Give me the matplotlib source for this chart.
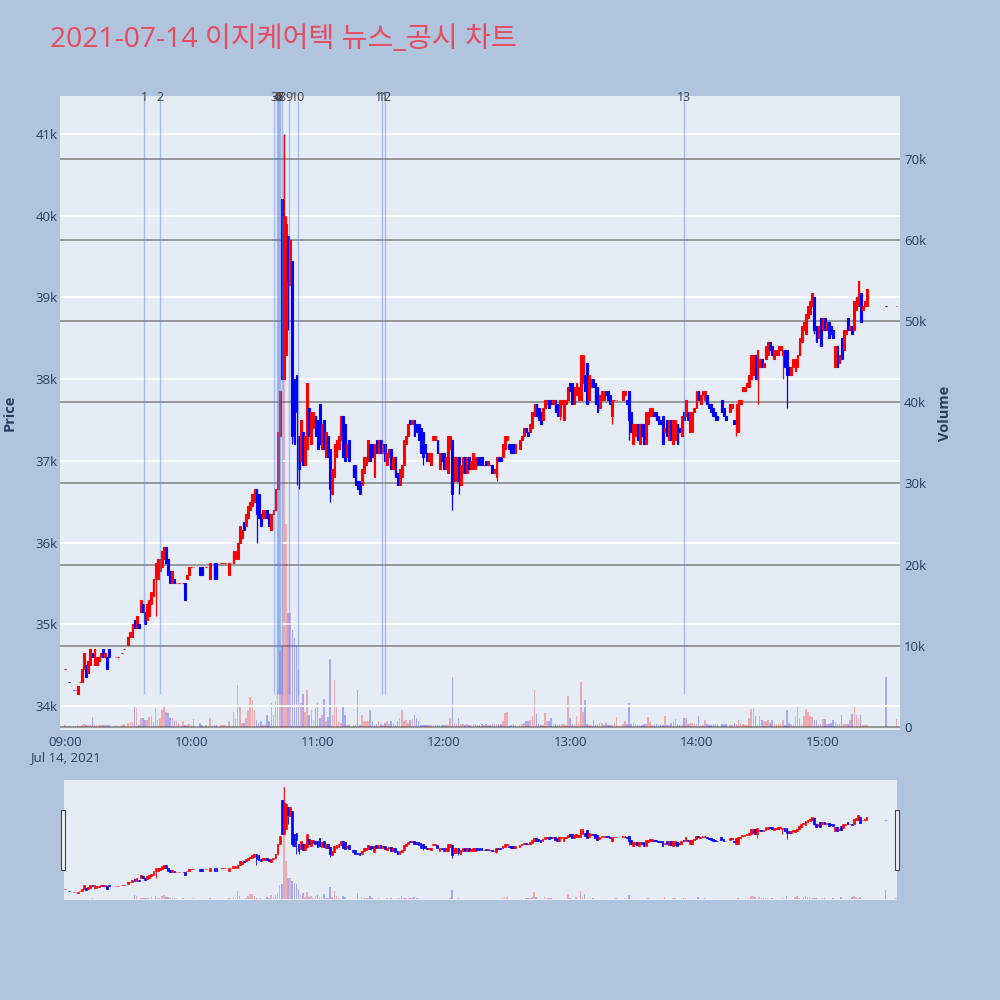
import matplotlib.pyplot as plt
import numpy as np
from matplotlib.patches import Rectangle

plt.rcParams['font.family'] = ['Open Sans', 'Noto Sans CJK KR', 'DejaVu Sans']

title = "2021-07-14 이지케어텍 뉴스_공시 차트"

# one candle per minute from 09:00 (None = no trade in that minute)
opens = [
    34450, None, 34300, None, 34200, 34200, 34150, 34300, 34300, 34450,
    34500, 34400, 34500, 34650, 34500, 34500, 34550, 34600, 34700, 34600,
    34600, 34700, None, None, 34600, 34600, None, 34650, 34700, None,
    34750, 34850, 34850, 35050, 34950, 35000, 35150, 35250, 35150, 35050,
    35100, 35250, 35350, 35550, 35550, 35650, 35700, 35800, 35950, 35800,
    35650, 35500, 35550, 35500, 35500, None, 35500, 35500, 35550, 35600,
    35700, 35700, None, None, 35700, 35700, None, 35700, None, 35550,
    None, 35750, 35750, None, 35750, 35750, 35750, None, 35600, None,
    35750, 35800, 35800, 36000, 36050, 36250, 36200, 36300, 36400, 36450,
    36500, 36650, 36600, 36350, 36300, 36300, 36400, 36350, 36150, 36350,
    36400, 36650, 37300, 40200, 38000, 38300, 39750, 39150, 39450, 38000,
    38050, 37300, 37000, 37350, 36950, 37150, 37650, 37200, 37400, 37550,
    37500, 37700, 37150, 37500, 37050, 37300, 37150, 36600, 36800, 37050,
    37150, 37250, 37550, 37450, 37050, 37250, None, 36950, 36950, 36750,
    36750, 36700, 36850, 36950, 37000, 37200, 37200, 36800, 37250, 37100,
    37250, 37100, 37200, 36950, 37050, 37150, 36900, 37050, 36850, 36700,
    36800, 36950, 37200, 37300, 37500, 37450, 37500, 37450, 37450, 37400,
    37350, 37200, 37100, 37000, 36950, 37250, 37250, 37250, 36900, 37100,
    37100, 36900, 36850, 37150, 37250, 36750, 36750, 37050, 36700, 36850,
    37050, 36850, 37050, 36900, 36900, 36900, 37050, 37050, 37050, 36950,
    37000, 36950, 36950, 36950, 36850, 36800, 37050, 37050, 37050, 37150,
    37250, 37200, 37200, 37200, 37100, None, 37150, 37250, 37300, 37400,
    37350, 37350, 37400, 37550, 37700, 37650, 37600, 37500, 37650, 37700,
    37750, 37750, 37700, 37750, 37700, 37550, 37700, 37500, 37700, 37750,
    37950, 37950, 37700, 37800, 37750, 37750, 37950, 38050, 38200, 37750,
    37900, 38000, 37950, 37900, 37650, 37750, 37750, 37850, 37850, 37800,
    37550, 37750, 37750, None, None, 37750, 37800, 37750, 37850, 37600,
    37200, 37300, 37450, 37200, 37450, 37450, 37200, 37450, 37550, 37550,
    37600, 37600, 37550, 37500, 37550, 37350, 37500, 37250, 37500, 37200,
    37250, 37450, 37400, 37300, 37600, 37550, 37600, 37350, 37350, 37600,
    37650, 37850, 37700, 37800, 37750, 37800, 37700, 37700, 37650, 37600,
    37550, None, 37750, 37650, 37550, None, 37600, 37650, 37500, 37350,
    37350, 37700, 37850, 37850, 37900, 37900, 38000, 38050, 38300, 38000,
    38150, 38250, 38150, 38250, 38300, 38450, 38400, 38250, 38300, 38300,
    38350, 38300, 38350, 38350, 38150, 38050, 38150, 38100, 38150, 38300,
    38450, 38600, 38550, 38750, 38800, 38900, 39000, 38650, 38500, 38750,
    38600, 38750, 38600, 38700, 38650, 38600, 38150, 38400, 38200, 38500,
    38350, 38550, 38750, 38600, 38650, 38600, 38850, 38900, 39050, 38850,
    38900, 38900, None, None, None, None, None, None, None, None,
    38900, None, None, None, None, 38900,
]
closes = [
    34450, None, 34300, None, 34200, 34200, 34250, 34300, 34450, 34650,
    34350, 34550, 34700, 34600, 34700, 34600, 34600, 34650, 34600, 34650,
    34450, 34600, None, None, 34600, 34600, None, 34650, 34700, None,
    34850, 34900, 35000, 34950, 35100, 34950, 35300, 35150, 35000, 35250,
    35300, 35400, 35550, 35750, 35800, 35800, 35900, 35950, 35750, 35600,
    35500, 35650, 35500, 35500, 35500, None, 35500, 35300, 35600, 35700,
    35700, 35700, None, None, 35600, 35600, None, 35700, None, 35750,
    None, 35550, 35550, None, 35750, 35750, 35750, None, 35750, None,
    35900, 35900, 36000, 36200, 36150, 36150, 36350, 36450, 36500, 36600,
    36650, 36350, 36300, 36200, 36400, 36400, 36300, 36200, 36350, 36400,
    36650, 37350, 37850, 38000, 40000, 39900, 39200, 39700, 37300, 37200,
    37600, 36900, 37500, 36950, 37300, 37950, 37300, 37600, 37600, 37300,
    37150, 37200, 37450, 37150, 37350, 37050, 36650, 36900, 37200, 37250,
    37300, 37550, 37050, 37000, 37200, 37000, None, 36800, 36700, 36650,
    36600, 36900, 37050, 37050, 37250, 37000, 37050, 37200, 37100, 37250,
    37100, 37200, 37000, 37100, 37150, 36900, 37050, 36800, 36700, 36900,
    36950, 37250, 37300, 37450, 37450, 37500, 37300, 37350, 37250, 37100,
    37050, 37100, 37000, 37100, 37100, 37300, 37300, 37100, 37100, 37000,
    36900, 37050, 37300, 37300, 36600, 37050, 37050, 36750, 36950, 37050,
    36850, 37050, 36900, 37000, 37100, 37050, 36950, 36950, 36950, 36950,
    36950, 37000, 36950, 36850, 36900, 37050, 37000, 37000, 37200, 37300,
    37300, 37150, 37100, 37100, 37200, None, 37250, 37300, 37400, 37350,
    37300, 37450, 37600, 37700, 37550, 37500, 37450, 37650, 37750, 37750,
    37650, 37700, 37750, 37600, 37550, 37750, 37750, 37750, 37750, 37900,
    37850, 37700, 37900, 37950, 37900, 38300, 38300, 37850, 37700, 38050,
    38000, 37900, 37700, 37600, 37800, 37850, 37850, 37800, 37750, 37700,
    37750, 37750, 37750, None, None, 37850, 37850, 37700, 37500, 37350,
    37450, 37450, 37250, 37450, 37300, 37200, 37600, 37600, 37650, 37650,
    37550, 37500, 37450, 37450, 37200, 37400, 37300, 37500, 37250, 37500,
    37500, 37200, 37350, 37550, 37500, 37750, 37500, 37600, 37600, 37650,
    37850, 37750, 37800, 37850, 37850, 37700, 37650, 37600, 37550, 37500,
    37500, None, 37600, 37550, 37500, None, 37700, 37700, 37450, 37700,
    37750, 37750, 37900, 37900, 37950, 38050, 38300, 38300, 38000, 38350,
    38250, 38150, 38200, 38400, 38450, 38350, 38300, 38350, 38350, 38400,
    38400, 38350, 38150, 38050, 38050, 38150, 38250, 38250, 38300, 38500,
    38650, 38700, 38800, 38900, 38950, 39050, 38600, 38450, 38650, 38400,
    38750, 38600, 38700, 38500, 38550, 38500, 38400, 38150, 38300, 38250,
    38600, 38600, 38600, 38650, 38550, 38950, 39000, 39200, 38700, 38900,
    38950, 39100, None, None, None, None, None, None, None, None,
    38900, None, None, None, None, 38900,
]
# wick ends that reach past the candle body
wick_hi = {103: 40200, 104: 41000, 105: 40000, 109: 38000, 381: 39100}
wick_lo = {6: 34150, 43: 35100, 91: 36000, 106: 38600, 108: 37200,
           110: 36700, 111: 36650, 126: 36500, 170: 36950, 184: 36400,
           187: 36600, 205: 36750, 235: 37500, 260: 37450, 268: 37250,
           319: 37300, 329: 37700, 341: 38000, 343: 37650, 356: 38550}

# volume in thousands of shares, one value per minute
volume_k = [
    0.2, 0, 0.1, 0, 0.1, 0.1, 0.3, 0.1, 0.2, 0.4,
    0.2, 0.3, 0.3, 1.2, 0.3, 0.3, 0.3, 0.3, 0.2, 0.2,
    0.3, 0.2, 0, 0, 0.2, 0.1, 0, 0.2, 0.4, 0,
    0.5, 0.6, 0.6, 2.6, 2.3, 0.3, 1.1, 1.1, 0.8, 0.8,
    1.2, 1.4, 0.6, 2.3, 0.8, 1.1, 2.1, 2.7, 1.9, 1.7,
    1.1, 1.1, 0.7, 0.7, 0.5, 0, 0.7, 0.3, 0.3, 0.4,
    0.2, 1.0, 0, 0, 0.5, 0.3, 0, 0.2, 0, 1.1,
    0, 0.3, 0.2, 0, 0.2, 0.2, 0.3, 0, 0.7, 0,
    1.8, 1.0, 5.2, 2.5, 0.5, 0.5, 1.1, 2.1, 3.7, 3.3,
    2.1, 0.9, 0.5, 0.7, 0.3, 0.3, 1.5, 0.7, 3.0, 1.5,
    3.2, 4.4, 9.3, 10.0, 73.0, 25.0, 14.0, 14.0, 12.0, 11.0,
    10.0, 7.0, 3.0, 4.1, 1.9, 4.6, 1.5, 2.1, 0.9, 2.3,
    2.9, 1.1, 1.5, 3.5, 0.7, 1.2, 8.4, 1.5, 5.8, 2.5,
    0.7, 0.5, 2.5, 1.5, 0.2, 0.2, 0, 0.3, 0.3, 4.5,
    0.3, 1.5, 0.7, 0.7, 0.7, 2.1, 0.7, 0.2, 0.4, 0.7,
    0.4, 0.2, 0.5, 0.7, 0.4, 0.7, 0.5, 0.3, 0.7, 1.1,
    2.1, 0.7, 0.8, 0.5, 0.8, 1.0, 1.5, 1.1, 0.7, 0.3,
    0.3, 0.3, 0.2, 0.3, 0.2, 0.3, 0.2, 0.2, 0.2, 0.2,
    0.3, 0.3, 0.3, 1.1, 6.2, 0.5, 0.4, 1.1, 0.4, 0.4,
    0.2, 0.4, 0.2, 0.2, 0.4, 0.4, 0.3, 0.3, 0.4, 0.2,
    0.4, 0.2, 0.2, 0.4, 0.4, 0.4, 0.4, 0.4, 0.7, 1.7,
    1.9, 0.1, 0.3, 0.4, 0.3, 0, 0.3, 0.4, 0.5, 0.7,
    0.7, 0.9, 1.4, 4.6, 1.6, 0.4, 0.2, 0.2, 1.7, 0.7,
    0.7, 1.1, 0.4, 0.4, 0.3, 0.4, 0.4, 0.4, 0.3, 3.8,
    1.1, 0.4, 0.3, 1.3, 0.5, 5.6, 1.9, 3.3, 0.4, 0.3,
    0.3, 0.9, 0.3, 0.4, 0.5, 0.5, 0.3, 0.5, 0.2, 0.3,
    0.3, 0.5, 1.2, 0, 0, 0.4, 0.7, 0.4, 2.9, 0.4,
    0.5, 0.4, 0.3, 0.3, 0.3, 0.4, 0.4, 1.2, 0.6, 0.3,
    0.3, 0.4, 0.3, 0.3, 0.3, 1.3, 0.2, 0.3, 0.5, 0.7,
    1.0, 0.4, 0.3, 0.3, 1.1, 1.1, 0.4, 0.5, 0.5, 0.4,
    0.4, 1.4, 0.3, 0.3, 0.9, 0.4, 0.3, 0.2, 0.4, 0.4,
    0.4, 0, 0.4, 0.4, 0.4, 0, 0.3, 0.3, 0.5, 0.4,
    0.8, 0.5, 0.4, 0.3, 0.3, 1.1, 2.2, 2.3, 1.4, 0.2,
    1.3, 0.9, 0.7, 0.7, 0.9, 0.5, 0.9, 0.4, 0.4, 0.4,
    0.4, 0.8, 0.2, 2.1, 0.5, 0.4, 0.4, 1.3, 2.5, 1.1,
    0.4, 1.4, 2.2, 1.9, 1.3, 1.2, 0.9, 0.9, 0.4, 0.4,
    1.0, 1.0, 0.4, 0.4, 0.5, 0.8, 0.6, 0.4, 0.4, 1.5,
    0.4, 0.4, 0.4, 0.8, 1.6, 2.5, 1.5, 1.1, 1.5, 0.3,
    0.3, 0.3, 0, 0, 0, 0, 0, 0, 0, 0,
    6.1, 0, 0, 0, 0, 1.0,
]

# news / disclosure markers (minutes after 09:00)
news_minutes = [37.5, 45, 99.3, 100.7, 101.2, 101.7, 102.1, 103.1, 106.4, 110.7, 150.4, 151.8, 294]
news_labels = [str(i) for i in range(1, 14)]

tick_minutes = [0, 60, 120, 180, 240, 300, 360]
tick_labels = ["09:00\nJul 14, 2021", "10:00", "11:00", "12:00", "13:00", "14:00", "15:00"]
price_ticks = [34000, 35000, 36000, 37000, 38000, 39000, 40000, 41000]
volume_ticks = [0, 10000, 20000, 30000, 40000, 50000, 60000, 70000]

RED = '#FF0000'
BLUE = '#0000FF'
BG = '#E5ECF6'
TXT = '#2a3f5f'

mins = np.arange(len(opens))
o = np.array([np.nan if v is None else v for v in opens], dtype=float)
c = np.array([np.nan if v is None else v for v in closes], dtype=float)
hi = np.fmax(o, c)
lo = np.fmin(o, c)
for m, v in wick_hi.items():
    hi[m] = v
for m, v in wick_lo.items():
    lo[m] = v
vol = np.array(volume_k) * 1000
ok = ~np.isnan(o)

# direction: close vs open; when they are equal, compare with the previous close
cols = []
prev = None
for oo, cc in zip(o, c):
    if np.isnan(oo):
        cols.append(RED)
        continue
    if cc > oo:
        cols.append(RED)
    elif cc < oo:
        cols.append(BLUE)
    else:
        cols.append(BLUE if (prev is not None and cc < prev) else RED)
    prev = cc
cols = np.array(cols)

price_lim = (33707, 41463)
vol_lim = (-370, 77700)


def draw_candles(ax, body_lw, wick_lw):
    x = mins[ok]
    ax.vlines(x, lo[ok], hi[ok], colors=cols[ok], linewidth=wick_lw, zorder=3)
    ax.bar(x, np.abs(c[ok] - o[ok]), bottom=np.fmin(o, c)[ok], width=0.85,
           color=cols[ok], edgecolor=cols[ok], linewidth=body_lw, zorder=4)


def draw_volume(ax):
    ax.bar(mins, vol, width=0.75, color=cols, alpha=0.28, linewidth=0, zorder=2)


fig = plt.figure(figsize=(10, 10), dpi=100)
fig.patch.set_facecolor('#B0C4DE')

rect = [0.06, 0.27, 0.84, 0.634]
ax_v = fig.add_axes(rect)
ax_p = fig.add_axes(rect, sharex=ax_v)

# volume axis (behind)
ax_v.set_facecolor(BG)
draw_volume(ax_v)
ax_v.set_ylim(*vol_lim)
ax_v.yaxis.tick_right()
ax_v.yaxis.set_label_position('right')
ax_v.set_yticks(volume_ticks)
ax_v.set_yticklabels(['0'] + [f'{int(t / 1000)}k' for t in volume_ticks[1:]])
ax_v.grid(axis='y', color='#808080', linewidth=1.1)
ax_v.tick_params(axis='y', length=0, pad=3, labelsize=9.5, labelcolor=TXT)
ax_v.tick_params(axis='x', bottom=False, labelbottom=False)
for s in ax_v.spines.values():
    s.set_visible(False)
ax_v.set_axisbelow(True)

# price axis (front)
ax_p.patch.set_visible(False)
draw_candles(ax_p, 0.8, 0.9)
ax_p.set_ylim(*price_lim)
ax_p.set_xlim(-2.4, 396.7)
ax_p.set_yticks(price_ticks)
ax_p.set_yticklabels([f'{int(t / 1000)}k' for t in price_ticks])
ax_p.grid(axis='y', color='white', linewidth=1.3, zorder=0)
ax_p.set_axisbelow(True)
ax_p.set_xticks(tick_minutes)
ax_p.set_xticklabels(tick_labels, linespacing=1.3)
ax_p.tick_params(axis='both', length=0, labelsize=9.5, labelcolor=TXT)
ax_p.tick_params(axis='y', pad=2)
ax_p.tick_params(axis='x', pad=4)
for s in ax_p.spines.values():
    s.set_visible(False)

# news lines and labels
line_bottom = np.nanmin(lo)
ax_p.vlines(news_minutes, line_bottom, price_lim[1], colors='#5b7fe6',
            linewidth=1.0, alpha=0.45, zorder=5)
for m, lab in zip(news_minutes, news_labels):
    ax_p.text(m, price_lim[1] - 20, lab, ha='center', va='center',
              fontsize=9, color='#444444', zorder=6)

fig.text(0.0095, 0.587, 'Price', rotation=90, ha='center', va='center',
         fontsize=10.5, fontweight='bold', color=TXT)
fig.text(0.945, 0.587, 'Volume', rotation=90, ha='center', va='center',
         fontsize=10.5, fontweight='bold', color=TXT)
fig.text(0.05, 0.96, title, ha='left', va='center', fontsize=20.3, color='#E84A5F')

# range slider
srect = [0.064, 0.10, 0.833, 0.12]
sv = fig.add_axes(srect)
sp = fig.add_axes(srect, sharex=sv)
sv.set_facecolor(BG)
draw_volume(sv)
sv.set_ylim(*vol_lim)
sp.patch.set_visible(False)
draw_candles(sp, 0.5, 0.6)
sp.set_ylim(*price_lim)
sp.set_xlim(-0.5, 395.5)
for a in (sv, sp):
    a.set_xticks([])
    a.set_yticks([])
    for s in a.spines.values():
        s.set_visible(False)

for hx in (0.0605, 0.8945):
    fig.patches.append(Rectangle((hx, 0.130), 0.0045, 0.06, transform=fig.transFigure,
                                 facecolor='#eeeeee', edgecolor='#444444', linewidth=0.8))

fig.savefig('out.png', dpi=100, facecolor=fig.get_facecolor())
